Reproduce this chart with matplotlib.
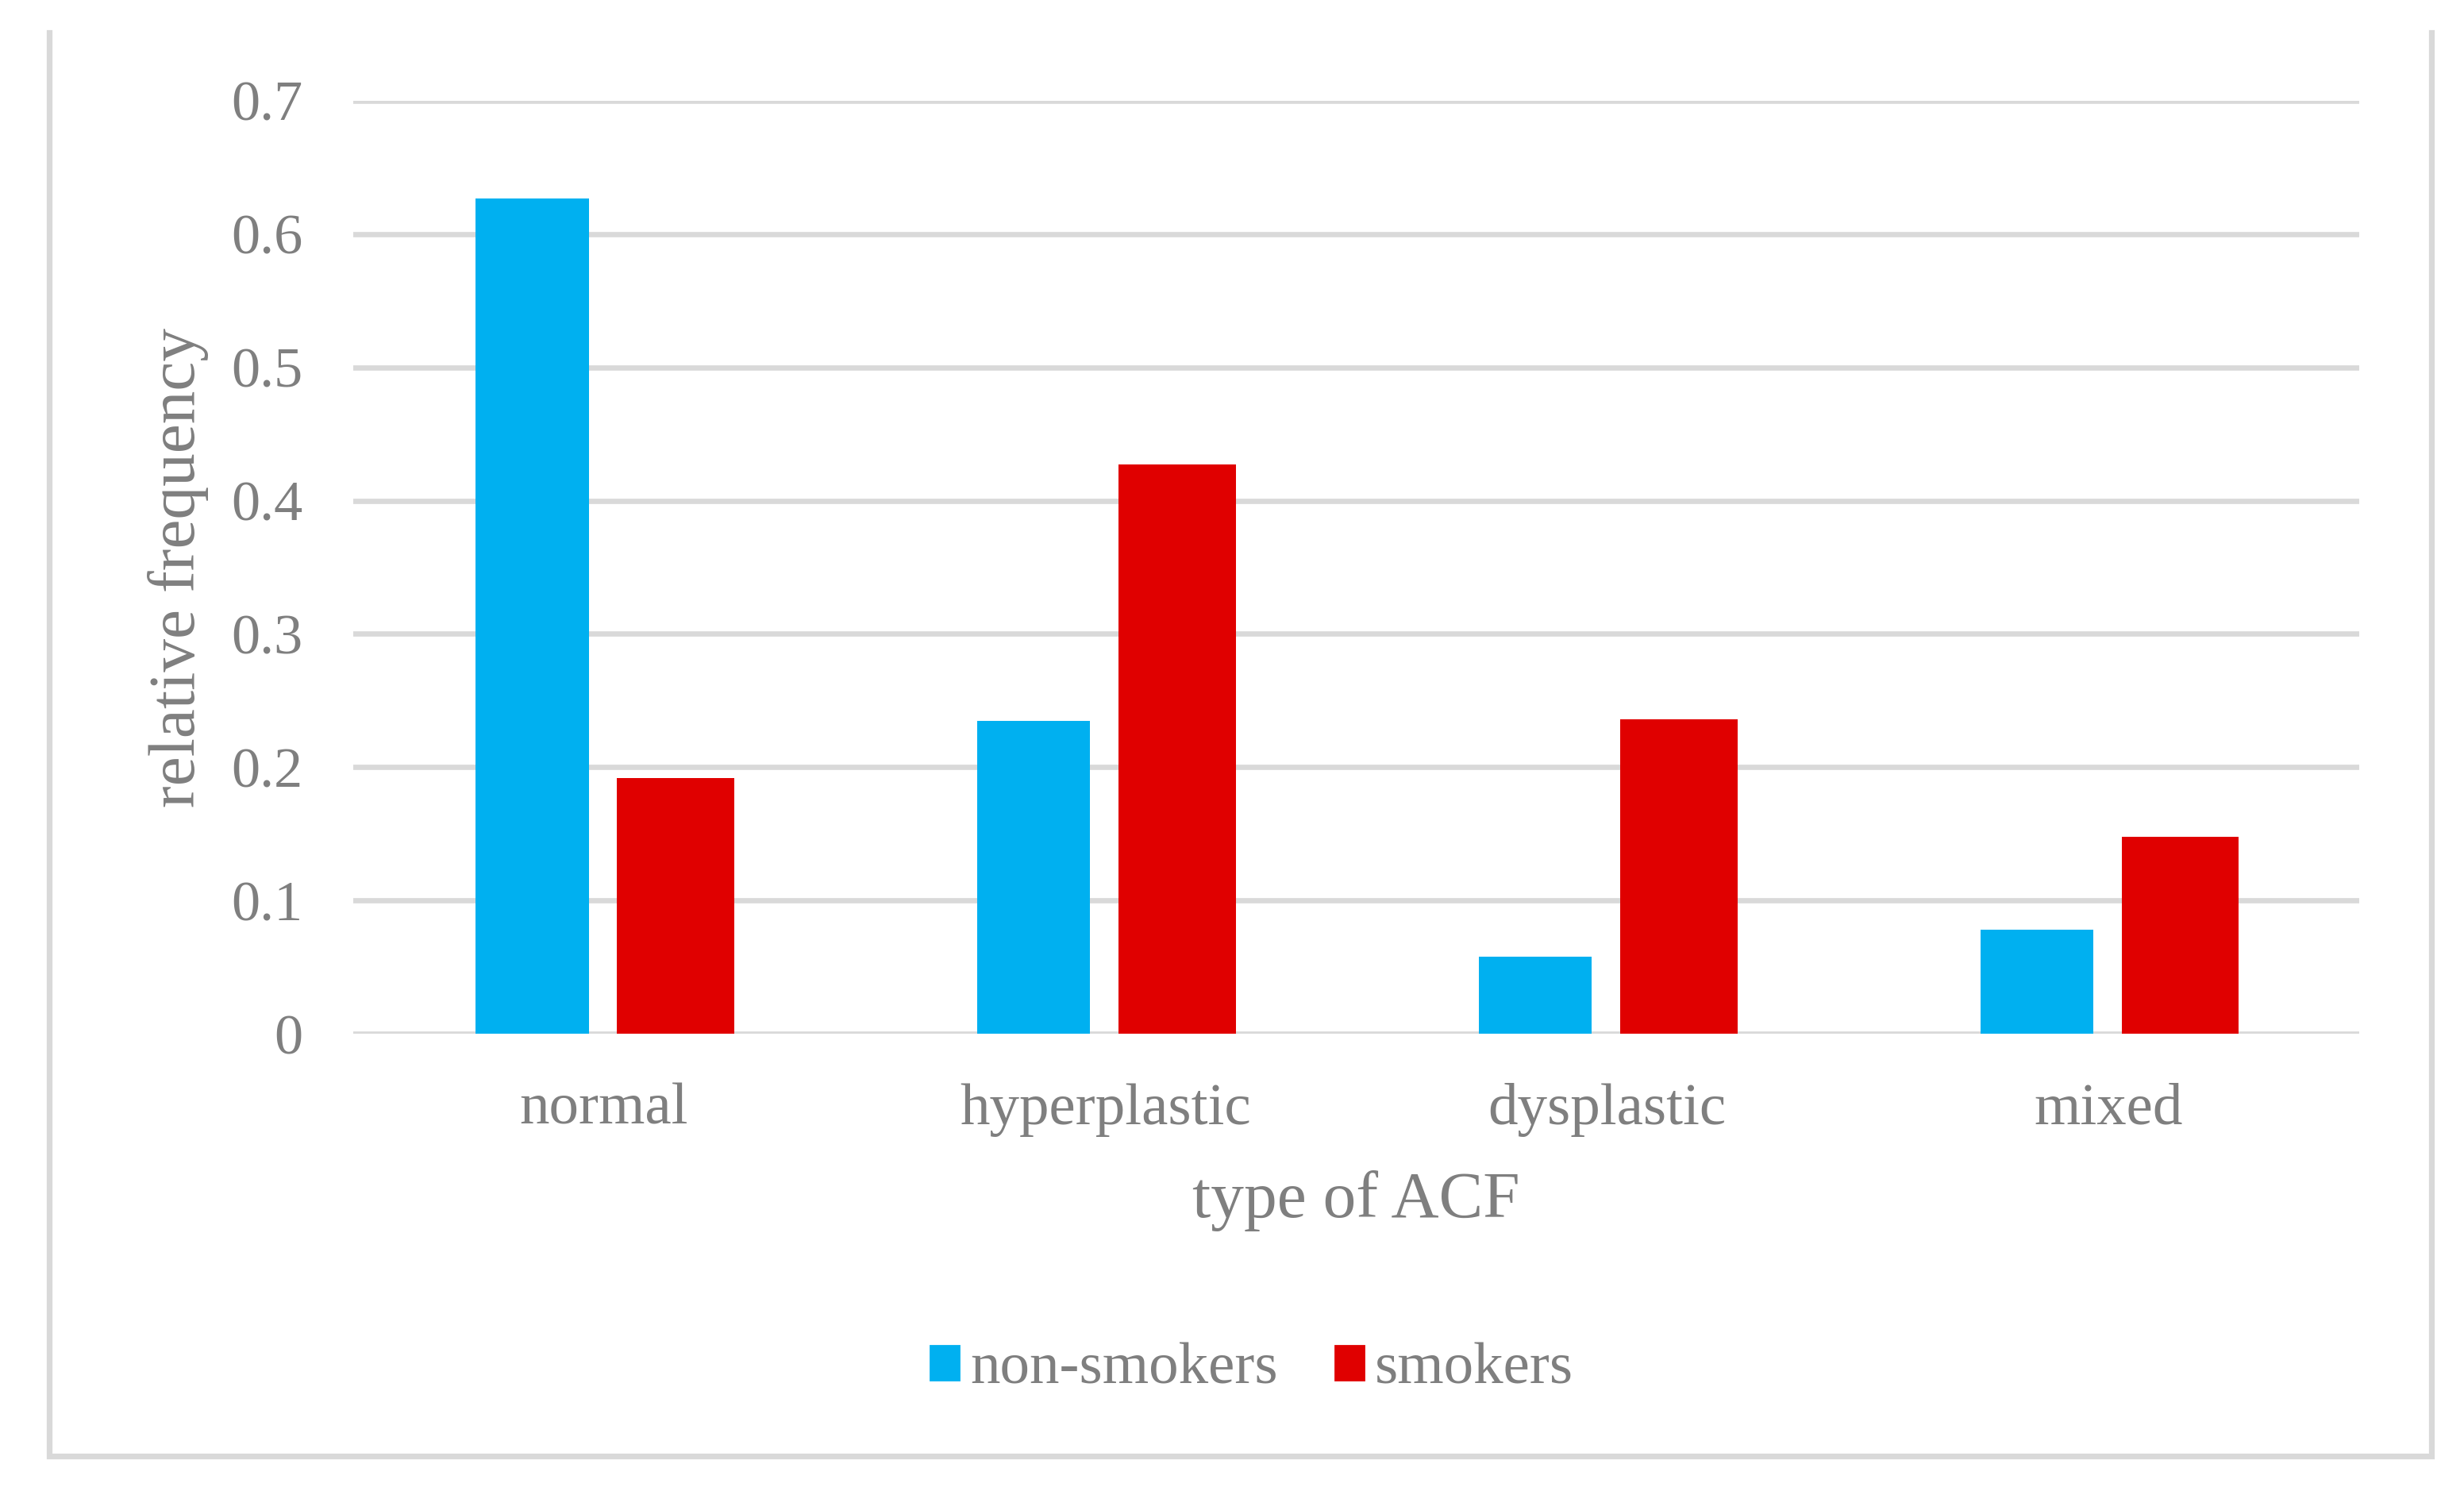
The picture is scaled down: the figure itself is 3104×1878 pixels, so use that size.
import matplotlib.pyplot as plt
import numpy as np
from matplotlib.lines import Line2D
from matplotlib.patches import Patch

categories  = ['normal', 'hyperplastic', 'dysplastic', 'mixed']
non_smokers = [0.627, 0.235, 0.058, 0.078]
smokers     = [0.192, 0.427, 0.236, 0.148]
y_ticks     = [0, 0.1, 0.2, 0.3, 0.4, 0.5, 0.6, 0.7]
y_labels    = ['0', '0.1', '0.2', '0.3', '0.4', '0.5', '0.6', '0.7']

BLUE  = '#00b0f0'
RED   = '#e00000'
GREY  = '#7f7f7f'
LINE  = '#d9d9d9'

plt.rcParams['font.family'] = ['Liberation Serif', 'DejaVu Serif']

fig = plt.figure(figsize=(15.52, 9.39), dpi=200)
ax  = fig.add_axes([445/3104, 1 - 1302/1878, (2972 - 445)/3104, (1302 - 127)/1878])

x = np.arange(len(categories))
ax.bar(x - 0.143, non_smokers, width=0.225, color=BLUE, label='non-smokers', zorder=3)
ax.bar(x + 0.143, smokers,     width=0.234, color=RED,  label='smokers',     zorder=3)

ax.set_xlim(-0.5, len(categories) - 0.5)
ax.set_ylim(0, 0.7)
ax.set_yticks(y_ticks)
ax.set_yticklabels(y_labels)
ax.set_xticks(x)
ax.set_xticklabels(categories)
ax.tick_params(axis='y', length=0, pad=23, labelsize=26, labelcolor=GREY)
ax.tick_params(axis='x', length=0, pad=22.5, labelsize=27, labelcolor=GREY)

ax.grid(axis='y', color=LINE, linewidth=2.4, zorder=0)
for s in ax.spines.values():
    s.set_visible(False)

ax.set_xlabel('type of ACF', fontsize=30, color=GREY, labelpad=15)
ax.set_ylabel('relative frequency', fontsize=30, color=GREY, labelpad=10)

#outer chart border (top edge is cut off in the original)
l, r = 62/3104, 3063/3104
t, b = 1 - 41/1878, 1 - 1834/1878
fig.add_artist(Line2D([l, l, r, r], [t, b, b, t], transform=fig.transFigure,
                      color=LINE, linewidth=2.6, solid_joinstyle='miter'))

handles = [Patch(color=BLUE, label='non-smokers'), Patch(color=RED, label='smokers')]
fig.legend(handles=handles, loc='center', bbox_to_anchor=(1577/3104, 1 - 1725/1878),
           ncol=2, frameon=False, fontsize=27, labelcolor=GREY,
           handlelength=0.48, handleheight=0.5, handletextpad=0.19, columnspacing=0.96)

fig.savefig('out.png', dpi=200)
